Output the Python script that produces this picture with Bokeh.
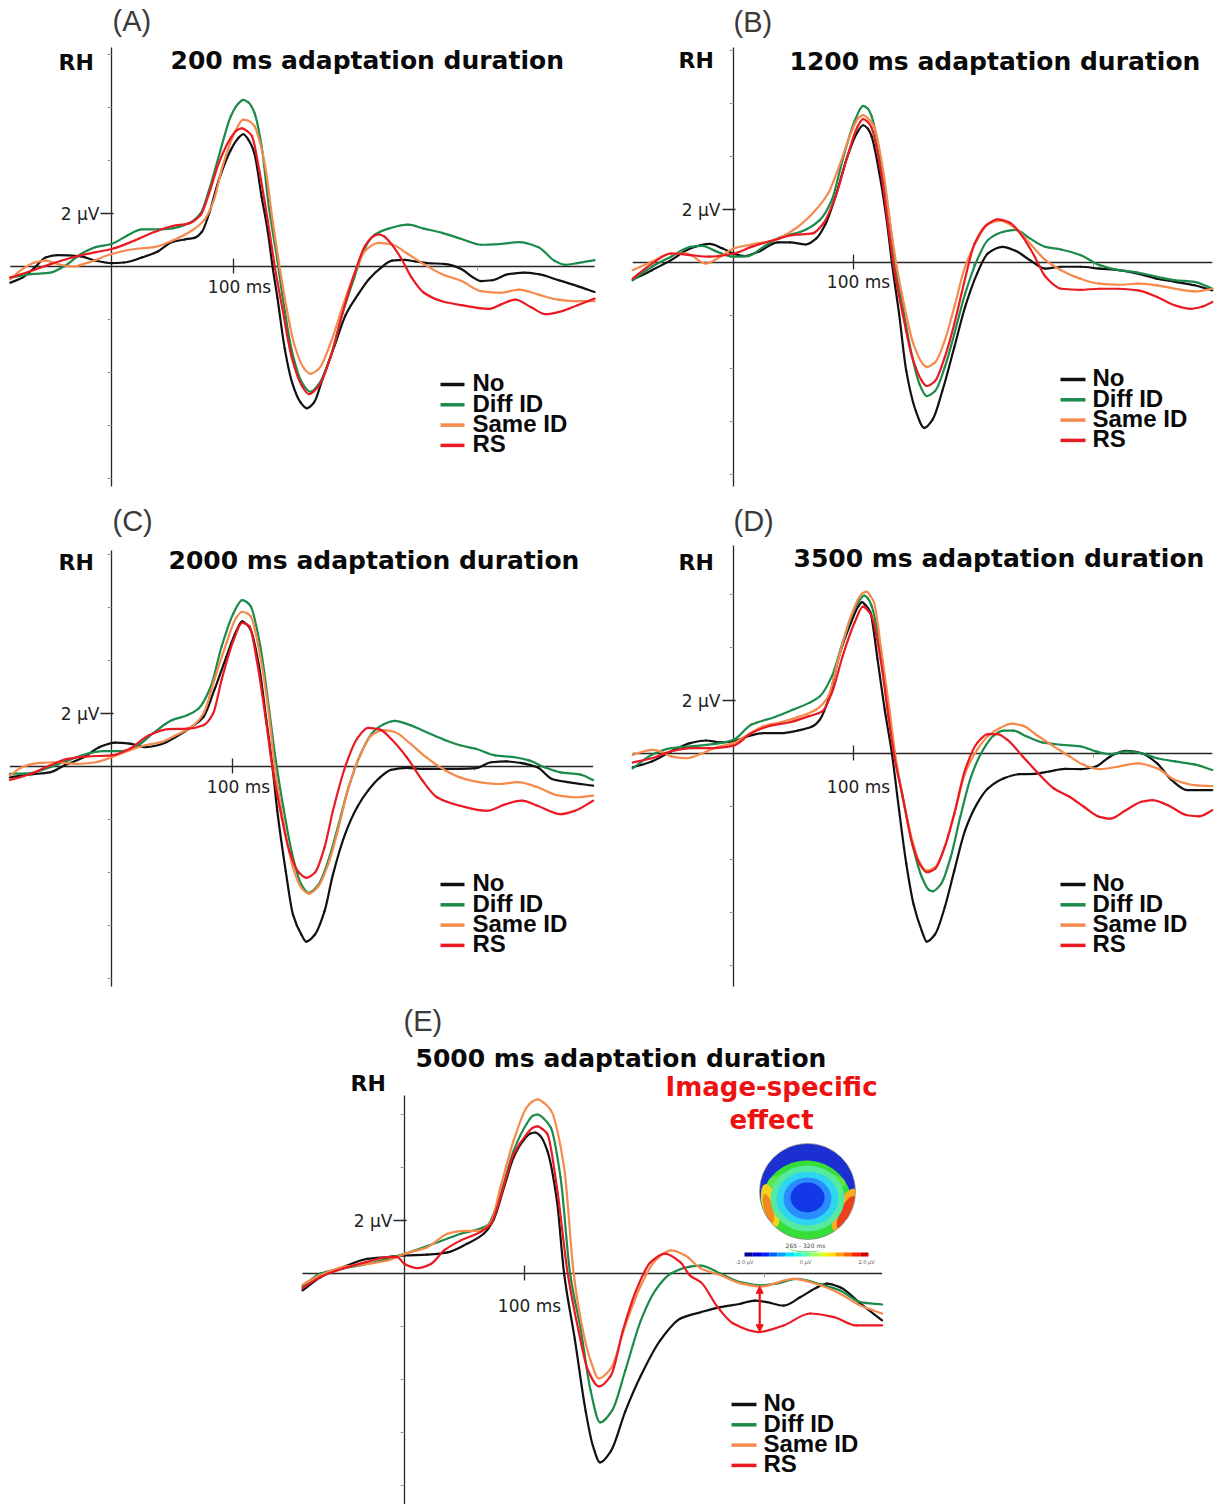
import numpy as np
from bokeh.plotting import figure
from bokeh.layouts import column, row
from bokeh.models import Range1d, Label, Arrow, NormalHead, Spacer
from bokeh.embed import file_html
from bokeh.resources import INLINE

# ---------------- data (time in ms, amplitude in µV) ----------------
SERIES = ["No", "Diff ID", "Same ID", "RS"]
COLORS = ["#111111", "#1b8a4b", "#f58a4c", "#ea1a22"]
TITLES = ["200 ms adaptation duration", "1200 ms adaptation duration",
          "2000 ms adaptation duration", "3500 ms adaptation duration",
          "5000 ms adaptation duration"]
TAGS = ["(A)", "(B)", "(C)", "(D)", "(E)"]
Y_TICK_LABEL = "2 µV"
X_TICK_LABEL = "100 ms"
Y_TICK = 2
X_TICK = 100
Y_MINOR = [-8, -6, -4, -2, 4, 6, 8]
X_MINOR = [200, 300]

A_NO = [(-83,-0.61),(-73,-0.42),(-63,-0.04),(-54,0.34),(-44,0.43),(-25,0.38),(-13,0.22),(0,0.13),(10,0.15),(25,0.34),(38,0.57),(50,0.93),(60,1.02),(68,1.08),(74,1.3),(80,2.0),(88,3.27),(98,4.42),(104,4.85),(108,4.99),(112,4.8),(117,4.29),(123,2.64),(128,1.36),(132,0.0),(136,-1.18),(142,-3.1),(148,-4.37),(155,-5.13),(160,-5.35),(166,-5.13),(173,-4.24),(183,-2.97),(192,-1.82),(202,-1.06),(211,-0.48),(221,-0.04),(230,0.22),(240,0.25),(249,0.19),(259,0.13),(274,0.09),(287,-0.1),(296,-0.4),(303,-0.55),(312,-0.52),(325,-0.29),(338,-0.23),(350,-0.29),(366,-0.51),(382,-0.74),(396,-0.96)]
A_DIFF = [(-83,-0.42),(-66,-0.29),(-50,-0.23),(-38,0.03),(-25,0.47),(-13,0.73),(0,0.85),(13,1.17),(25,1.4),(38,1.4),(50,1.44),(63,1.62),(73,2.0),(80,2.89),(88,4.17),(98,5.69),(104,6.15),(108,6.29),(112,6.2),(117,5.82),(123,4.55),(129,2.25),(136,0.22),(140,-1.06),(148,-3.22),(156,-4.37),(163,-4.73),(170,-4.43),(180,-3.35),(189,-1.82),(199,-0.42),(208,0.73),(216,1.21),(227,1.43),(243,1.58),(256,1.43),(271,1.27),(287,1.04),(303,0.82),(319,0.85),(334,0.92),(350,0.73),(363,0.22),(372,0.06),(382,0.13),(396,0.24)]
A_SAME = [(-83,-0.48),(-73,-0.1),(-63,0.15),(-54,0.22),(-44,0.09),(-32,0.0),(-19,0.15),(0,0.47),(19,0.66),(35,0.73),(50,0.98),(66,1.36),(76,1.75),(84,2.51),(91,3.78),(101,5.06),(108,5.54),(112,5.5),(117,5.31),(121,4.8),(126,3.78),(132,1.75),(137,0.22),(142,-1.18),(150,-2.97),(158,-3.86),(163,-4.05),(170,-3.86),(180,-2.84),(189,-1.57),(199,-0.29),(208,0.6),(219,0.89),(230,0.83),(243,0.47),(256,0.09),(271,-0.29),(287,-0.55),(303,-0.93),(319,-0.99),(334,-0.87),(350,-1.06),(366,-1.25),(382,-1.31),(396,-1.31)]
A_RS = [(-83,-0.42),(-66,-0.17),(-50,0.09),(-32,0.34),(-13,0.54),(0,0.66),(19,0.98),(35,1.3),(50,1.53),(63,1.62),(73,1.94),(80,2.76),(88,3.91),(98,4.87),(103,5.15),(107,5.21),(111,5.12),(115,4.93),(121,3.66),(128,1.75),(134,-0.04),(140,-1.57),(148,-3.48),(156,-4.5),(162,-4.82),(170,-4.5),(180,-3.35),(189,-1.82),(199,-0.29),(208,0.79),(215,1.15),(219,1.21),(223,1.15),(227,0.98),(237,0.34),(246,-0.42),(256,-0.99),(271,-1.31),(287,-1.46),(309,-1.6),(319,-1.44),(331,-1.25),(344,-1.54),(356,-1.8),(369,-1.69),(382,-1.46),(396,-1.21)]

B_NO = [(-84,-0.65),(-68,-0.29),(-52,0.09),(-36,0.53),(-20,0.7),(-9,0.53),(0,0.34),(9,0.24),(21,0.41),(37,0.76),(47,0.76),(60,0.68),(69,0.91),(77,1.48),(85,2.49),(95,4.01),(103,4.9),(108,5.18),(112,5.05),(115,4.77),(122,3.25),(128,1.48),(132,0.0),(138,-1.94),(144,-4.09),(152,-5.61),(159,-6.24),(166,-5.92),(174,-4.85),(184,-3.2),(193,-1.68),(203,-0.42),(212,0.34),(224,0.59),(235,0.44),(247,0.09),(260,-0.23),(273,-0.16),(289,-0.16),(305,-0.23),(321,-0.29),(337,-0.42),(353,-0.61),(368,-0.73),(384,-0.86),(399,-1.05)]
B_DIFF = [(-84,-0.67),(-68,-0.16),(-52,0.22),(-36,0.59),(-26,0.63),(-14,0.41),(0,0.22),(12,0.24),(25,0.59),(40,0.97),(56,1.16),(72,1.61),(82,2.37),(91,3.89),(101,5.34),(108,5.91),(112,5.8),(115,5.53),(123,3.76),(130,1.61),(135,-0.16),(141,-1.68),(149,-3.58),(155,-4.59),(161,-5.04),(168,-4.85),(176,-3.96),(184,-2.7),(193,-1.18),(203,0.09),(212,0.85),(225,1.16),(235,1.23),(247,0.91),(260,0.59),(273,0.49),(289,0.28),(305,-0.1),(321,-0.29),(337,-0.38),(353,-0.54),(368,-0.67),(384,-0.73),(399,-0.99)]
B_SAME = [(-84,-0.29),(-68,0.03),(-52,0.34),(-39,0.34),(-23,-0.04),(-11,0.22),(0,0.53),(15,0.68),(34,0.85),(50,1.23),(66,1.86),(79,2.62),(88,3.63),(98,4.9),(104,5.45),(108,5.56),(112,5.45),(117,5.15),(125,3.38),(131,1.35),(136,-0.16),(142,-1.56),(150,-3.08),(158,-3.84),(161,-3.94),(168,-3.77),(176,-2.95),(184,-1.68),(193,-0.16),(203,0.85),(212,1.44),(222,1.58),(235,1.29),(247,0.72),(260,0.09),(273,-0.29),(289,-0.61),(305,-0.8),(321,-0.84),(337,-0.8),(353,-0.86),(368,-0.99),(384,-1.09),(399,-0.99)]
B_RS = [(-84,-0.61),(-68,-0.04),(-52,0.34),(-36,0.28),(-20,0.22),(0,0.34),(15,0.59),(34,0.85),(50,1.04),(66,1.1),(75,1.48),(85,2.49),(95,4.01),(103,5.09),(108,5.41),(112,5.3),(115,5.09),(123,3.38),(129,1.35),(134,-0.29),(141,-1.94),(149,-3.58),(157,-4.47),(161,-4.66),(168,-4.47),(176,-3.58),(184,-2.32),(192,-0.8),(201,0.72),(211,1.42),(220,1.63),(230,1.51),(241,0.97),(251,0.22),(260,-0.54),(273,-0.99),(289,-1.03),(305,-0.99),(321,-0.99),(337,-1.05),(353,-1.3),(368,-1.62),(381,-1.75),(391,-1.66),(399,-1.49)]

C_NO = [(-84,-0.41),(-67,-0.3),(-51,-0.22),(-39,0.04),(-23,0.35),(-10,0.73),(3,0.9),(15,0.86),(28,0.73),(41,0.84),(53,1.11),(66,1.49),(76,1.87),(85,2.89),(95,4.15),(103,5.1),(108,5.48),(112,5.35),(115,5.16),(122,3.77),(128,1.75),(133,0.0),(137,-1.67),(144,-3.95),(150,-5.59),(157,-6.35),(161,-6.61),(168,-6.35),(176,-5.47),(183,-4.08),(193,-2.56),(203,-1.54),(212,-0.91),(222,-0.41),(231,-0.13),(244,-0.05),(257,-0.09),(272,-0.09),(288,-0.09),(301,-0.06),(314,0.16),(326,0.19),(339,0.13),(352,-0.03),(364,-0.47),(377,-0.59),(398,-0.72)]
C_DIFF = [(-84,-0.28),(-67,-0.25),(-51,-0.03),(-36,0.23),(-20,0.48),(-7,0.58),(9,0.58),(22,0.8),(34,1.24),(50,1.75),(63,1.94),(72,2.19),(82,3.01),(91,4.53),(101,5.8),(108,6.28),(112,6.2),(115,6.05),(123,4.53),(130,2.25),(135,0.48),(142,-1.54),(150,-3.44),(157,-4.46),(163,-4.77),(171,-4.46),(179,-3.57),(187,-2.3),(196,-0.78),(206,0.48),(215,1.24),(225,1.59),(234,1.72),(247,1.56),(260,1.3),(276,0.99),(288,0.8),(301,0.67),(317,0.42),(333,0.35),(345,0.23),(358,-0.03),(371,-0.22),(387,-0.3),(398,-0.51)]
C_SAME = [(-84,-0.34),(-74,-0.03),(-61,0.13),(-45,0.16),(-29,0.1),(-13,0.16),(0,0.35),(15,0.61),(28,0.8),(41,0.92),(53,1.18),(66,1.49),(76,2.0),(85,3.27),(95,4.66),(103,5.61),(108,5.84),(112,5.78),(115,5.67),(123,4.15),(130,2.0),(135,-0.03),(142,-2.05),(150,-3.82),(157,-4.58),(163,-4.8),(171,-4.52),(179,-3.7),(187,-2.43),(196,-0.78),(206,0.48),(215,1.18),(225,1.37),(234,1.3),(247,0.86),(260,0.35),(276,-0.15),(288,-0.41),(304,-0.59),(320,-0.66),(336,-0.59),(352,-0.78),(368,-1.08),(383,-1.16),(398,-1.1)]
C_RS = [(-84,-0.51),(-67,-0.28),(-51,0.04),(-36,0.29),(-20,0.38),(0,0.42),(15,0.67),(31,1.18),(47,1.41),(63,1.43),(76,1.56),(84,2.0),(91,3.27),(101,4.78),(108,5.42),(111,5.38),(114,5.29),(120,4.03),(128,1.62),(133,-0.03),(139,-1.54),(147,-3.19),(155,-4.01),(161,-4.2),(168,-4.01),(176,-3.06),(183,-1.67),(193,-0.03),(203,1.05),(212,1.46),(222,1.39),(231,1.05),(244,0.35),(257,-0.53),(269,-1.16),(288,-1.48),(310,-1.67),(326,-1.42),(339,-1.29),(352,-1.48),(371,-1.8),(383,-1.67),(398,-1.29)]

D_NO = [(-84,-0.52),(-68,-0.3),(-52,0.08),(-36,0.39),(-23,0.49),(-11,0.42),(0,0.46),(12,0.65),(25,0.77),(40,0.77),(53,0.86),(66,1.03),(72,1.28),(80,2.16),(88,3.68),(98,4.95),(104,5.55),(107,5.71),(110,5.6),(114,5.33),(120,3.56),(126,1.66),(132,0.0),(138,-2.14),(144,-4.16),(150,-5.68),(157,-6.7),(161,-7.1),(168,-6.82),(176,-5.81),(184,-4.42),(193,-2.9),(203,-1.89),(212,-1.32),(225,-0.94),(238,-0.78),(251,-0.77),(263,-0.68),(276,-0.58),(289,-0.59),(302,-0.49),(314,-0.11),(327,0.1),(340,0.01),(353,-0.37),(365,-1.0),(378,-1.38),(399,-1.38)]
D_DIFF = [(-84,-0.56),(-68,-0.05),(-52,0.2),(-30,0.29),(-14,0.37),(0,0.52),(15,1.09),(34,1.37),(50,1.66),(63,1.91),(72,2.16),(82,2.92),(91,4.19),(101,5.46),(109,5.96),(112,5.85),(115,5.58),(123,3.81),(129,1.66),(134,0.0),(141,-1.63),(149,-3.41),(157,-4.67),(163,-5.15),(166,-5.2),(173,-4.92),(181,-3.91),(189,-2.39),(198,-0.87),(208,0.14),(217,0.68),(225,0.86),(233,0.86),(244,0.65),(257,0.42),(273,0.33),(289,0.27),(302,0.08),(314,-0.03),(327,0.08),(340,0.01),(353,-0.18),(368,-0.3),(384,-0.41),(399,-0.62)]
D_SAME = [(-84,-0.05),(-68,0.14),(-61,0.08),(-52,-0.11),(-39,-0.18),(-26,0.01),(-14,0.24),(0,0.39),(12,0.71),(25,1.03),(40,1.19),(56,1.41),(69,1.66),(79,2.16),(88,3.68),(98,5.2),(107,6.03),(111,6.11),(114,5.95),(117,5.71),(123,3.94),(130,1.66),(135,-0.11),(141,-1.63),(149,-3.28),(155,-4.1),(161,-4.42),(168,-4.29),(176,-3.53),(184,-2.27),(193,-0.75),(203,0.14),(212,0.65),(222,0.96),(232,1.13),(241,1.05),(254,0.65),(267,0.27),(280,-0.11),(292,-0.43),(305,-0.59),(321,-0.49),(337,-0.37),(353,-0.56),(368,-1.0),(384,-1.19),(399,-1.23)]
D_RS = [(-84,-0.34),(-68,-0.18),(-52,0.08),(-36,0.2),(-20,0.2),(0,0.3),(15,0.77),(31,1.05),(47,1.18),(63,1.41),(74,1.59),(82,2.29),(91,3.68),(101,4.95),(108,5.54),(112,5.4),(115,5.2),(123,3.43),(129,1.41),(134,-0.11),(141,-1.63),(149,-3.41),(155,-4.16),(161,-4.48),(168,-4.35),(176,-3.53),(184,-2.27),(193,-0.62),(203,0.39),(212,0.73),(220,0.73),(228,0.52),(241,-0.11),(254,-0.75),(267,-1.32),(280,-1.63),(292,-2.01),(305,-2.39),(314,-2.46),(327,-2.14),(340,-1.82),(349,-1.76),(362,-1.95),(378,-2.33),(388,-2.37),(399,-2.14)]

E_NO = [(-85,-0.64),(-70,-0.14),(-51,0.24),(-31,0.55),(-14,0.62),(0,0.68),(19,0.71),(36,0.8),(52,1.12),(66,1.5),(74,2.0),(83,3.26),(91,4.39),(99,5.02),(105,5.28),(109,5.32),(113,5.2),(119,4.64),(127,2.75),(133,0.0),(142,-2.5),(151,-5.2),(157,-6.5),(163,-7.13),(172,-6.7),(184,-5.2),(197,-3.85),(213,-2.53),(230,-1.7),(247,-1.46),(263,-1.27),(280,-1.14),(292,-1.02),(302,-1.08),(316,-1.21),(330,-0.89),(344,-0.52),(352,-0.38),(363,-0.52),(380,-1.14),(398,-1.77)]
E_DIFF = [(-85,-0.49),(-70,0.0),(-51,0.19),(-31,0.36),(0,0.74),(24,1.12),(47,1.5),(69,1.81),(80,3.0),(91,4.64),(102,5.66),(107,5.95),(111,6.0),(116,5.85),(122,5.5),(130,3.64),(138,0.0),(147,-2.15),(155,-4.4),(163,-5.62),(173,-5.17),(184,-3.66),(197,-1.77),(209,-0.64),(222,0.0),(238,0.26),(247,0.3),(263,0.0),(280,-0.33),(297,-0.45),(311,-0.37),(327,-0.2),(347,-0.41),(363,-0.64),(380,-1.08),(398,-1.17)]
E_SAME = [(-85,-0.42),(-70,-0.06),(-51,0.25),(-31,0.36),(-14,0.49),(0,0.74),(19,0.99),(36,1.5),(47,1.6),(63,1.62),(72,1.94),(80,3.26),(91,5.02),(102,6.28),(107,6.5),(111,6.57),(116,6.45),(122,6.16),(133,4.0),(141,0.0),(147,-1.77),(155,-3.28),(162,-3.96),(172,-3.58),(184,-1.96),(197,-0.45),(209,0.49),(222,0.87),(234,0.68),(247,0.19),(263,-0.06),(280,-0.37),(297,-0.49),(324,-0.2),(347,-0.45),(363,-0.76),(380,-1.21),(398,-1.51)]
E_RS = [(-85,-0.55),(-70,-0.13),(-51,0.19),(-31,0.44),(-14,0.62),(-6,0.62),(0,0.36),(11,0.2),(22,0.36),(33,0.87),(47,1.25),(63,1.56),(72,1.87),(80,2.88),(91,4.51),(102,5.27),(107,5.5),(111,5.55),(115,5.45),(119,5.27),(127,3.26),(136,0.0),(145,-2.15),(153,-3.66),(162,-4.26),(172,-3.85),(182,-2.15),(193,-0.64),(205,0.42),(217,0.75),(230,0.42),(238,-0.08),(247,-0.33),(261,-1.27),(274,-1.89),(295,-2.21),(316,-1.96),(338,-1.51),(358,-1.65),(377,-1.96),(398,-1.96)]

PANEL_DATA = [
    [A_NO, A_DIFF, A_SAME, A_RS],
    [B_NO, B_DIFF, B_SAME, B_RS],
    [C_NO, C_DIFF, C_SAME, C_RS],
    [D_NO, D_DIFF, D_SAME, D_RS],
    [E_NO, E_DIFF, E_SAME, E_RS],
]

EFFECT_TEXT = ["Image-specific", "effect"]
ARROW_T = 296
TOPO_TITLE = "265 - 320 ms"
TOPO_TICKS = ["-2.0 µV", "0 µV", "2.0 µV"]
JET = ["#00008f", "#0000d0", "#0020ff", "#0060ff", "#00a0ff", "#00e0ff", "#20ffdf",
       "#60ff9f", "#a0ff60", "#dfff20", "#ffe000", "#ffa000", "#ff6000", "#ff2000", "#d00000"]

# ---------------- layout (page pixels) ----------------
PXUV = 26.5
LAYOUT = [
    dict(ox=0, oy=0, w=612, h=497, x0=111, pxms=1.22, y0=266, ytop=47, ybot=486,
         tag=(112, 32), title=(170, 70), rh=(58, 71), uv=(99, 220), ms=(239, 293),
         leg=(440, 464, 472, 392)),
    dict(ox=612, oy=0, w=613, h=497, x0=733, pxms=1.20, y0=262, ytop=47, ybot=486,
         tag=(733, 33), title=(789, 71), rh=(678, 69), uv=(720, 216), ms=(858, 288),
         leg=(1060, 1085, 1092, 387)),
    dict(ox=0, oy=497, w=612, h=500, x0=111, pxms=1.21, y0=766, ytop=550, ybot=986,
         tag=(112, 532), title=(168, 570), rh=(58, 571), uv=(99, 720), ms=(238, 793),
         leg=(440, 464, 472, 892)),
    dict(ox=612, oy=497, w=613, h=500, x0=733, pxms=1.20, y0=753, ytop=545, ybot=986,
         tag=(733, 532), title=(793, 568), rh=(678, 571), uv=(720, 707), ms=(858, 793),
         leg=(1060, 1085, 1092, 892)),
    dict(ox=300, oy=997, w=590, h=507, x0=404, pxms=1.20, y0=1273, ytop=1095, ybot=1504,
         tag=(403, 1032), title=(415, 1068), rh=(350, 1092), uv=(392, 1227), ms=(529, 1312),
         leg=(731, 756, 763, 1412)),
]
AXIS_COLOR = "#262626"
LEG_STEP = 20.3


def pchip_bezier(s):
    """Smooth (shape-preserving) cubic segments through the read points."""
    t = np.array([a for a, _ in s], float)
    v = np.array([b for _, b in s], float)
    h = np.diff(t)
    d = np.diff(v) / h
    m = np.zeros_like(v)
    m[0], m[-1] = d[0], d[-1]
    for k in range(1, len(v) - 1):
        if d[k - 1] * d[k] > 0:
            w1 = 2 * h[k] + h[k - 1]
            w2 = h[k] + 2 * h[k - 1]
            m[k] = (w1 + w2) / (w1 / d[k - 1] + w2 / d[k])
    return dict(x0=t[:-1], y0=v[:-1], x1=t[1:], y1=v[1:],
                cx0=t[:-1] + h / 3, cy0=v[:-1] + m[:-1] * h / 3,
                cx1=t[1:] - h / 3, cy1=v[1:] - m[1:] * h / 3)


def make_panel(i):
    L = LAYOUT[i]
    data = PANEL_DATA[i]
    X = lambda px: (px - L["x0"]) / L["pxms"]
    Y = lambda py: (L["y0"] - py) / PXUV
    p = figure(width=L["w"], height=L["h"],
               x_range=Range1d(X(L["ox"]), X(L["ox"] + L["w"])),
               y_range=Range1d(Y(L["oy"] + L["h"]), Y(L["oy"])),
               output_backend="svg", toolbar_location=None,
               x_axis_type=None, y_axis_type=None, min_border=0, title=None,
               outline_line_color=None, background_fill_color="white",
               border_fill_color="white")

    ts = [t for s in data for t, _ in s]
    tmin, tmax = min(ts), max(ts)
    ybot, ytop = Y(L["ybot"]), Y(L["ytop"])
    p.segment(x0=[tmin, 0], y0=[0, ybot], x1=[tmax, 0], y1=[0, ytop],
              line_color=AXIS_COLOR, line_width=1.3)
    p.segment(x0=[X(L["x0"] - 11)], y0=[Y_TICK], x1=[X(L["x0"] + 2)], y1=[Y_TICK],
              line_color=AXIS_COLOR, line_width=1.3)
    p.segment(x0=[X_TICK], y0=[Y(L["y0"] - 8)], x1=[X_TICK], y1=[Y(L["y0"] + 7)],
              line_color=AXIS_COLOR, line_width=1.3)
    ym = [v for v in Y_MINOR if ybot < v < ytop]
    p.segment(x0=[X(L["x0"] - 4)] * len(ym), y0=ym, x1=[0] * len(ym), y1=ym,
              line_color="#9a9a9a", line_width=1)
    p.segment(x0=X_MINOR, y0=[0] * len(X_MINOR), x1=X_MINOR,
              y1=[Y(L["y0"] + 4)] * len(X_MINOR), line_color="#9a9a9a", line_width=1)

    for name, col, s in zip(SERIES, COLORS, data):
        p.bezier(**pchip_bezier(s), line_color=col, line_width=2.2, line_cap="round")

    def lab(px, py, text, font, size, style="normal", color="#111111", align="left"):
        fs = float(size.replace("px", ""))
        p.add_layout(Label(x=X(px), y=Y(py - 0.4 * fs), text=text, text_font=font,
                           text_font_size=size, text_font_style=style,
                           text_color=color, text_align=align,
                           text_baseline="alphabetic"))

    lab(*L["tag"], TAGS[i], "Liberation Sans", "29px", color="#3a3a3a")
    lab(*L["title"], TITLES[i], "DejaVu Sans", "25px", "bold", "#0a0a0a")
    lab(*L["rh"], "RH", "DejaVu Sans", "22px", "bold", "#0a0a0a")
    lab(*L["uv"], Y_TICK_LABEL, "DejaVu Sans", "17px", color="#222222", align="right")
    lab(*L["ms"], X_TICK_LABEL, "DejaVu Sans", "17px", color="#222222", align="center")

    lx0, lx1, tx, b0 = L["leg"]
    for k, (name, col) in enumerate(zip(SERIES, COLORS)):
        b = b0 + LEG_STEP * k
        p.segment(x0=[X(lx0)], y0=[Y(b - 8)], x1=[X(lx1)], y1=[Y(b - 8)],
                  line_color=col, line_width=3.5)
        lab(tx, b, name, "Liberation Sans", "24px", "bold", "#0a0a0a")
    return p, X, Y, lab


panels = [make_panel(i) for i in range(5)]
pE, XE, YE, labE = panels[4]

# --- annotation of panel E ---
labE(771, 1097, EFFECT_TEXT[0], "DejaVu Sans", "26px", "bold", "#ee1111", "center")
labE(771, 1130, EFFECT_TEXT[1], "DejaVu Sans", "26px", "bold", "#ee1111", "center")

cx, cy = XE(807), YE(1191)
pE.scatter([cx], [cy], size=96, marker="circle", fill_color="#1c2fd0", line_color=None)
pE.scatter([XE(806)], [YE(1206)], size=92, marker="circle", fill_color="#36df38", line_color=None)
pE.ellipse([XE(806)], [YE(1182)], width=78, height=22, width_units="screen",
           height_units="screen", fill_color="#6ee84a", line_color=None, fill_alpha=0.7)
pE.ellipse([XE(770)], [YE(1205)], width=16, height=44, angle=0.25, width_units="screen",
           height_units="screen", fill_color="#f2d21a", line_color=None)
pE.ellipse([XE(768)], [YE(1208)], width=9, height=30, angle=0.25, width_units="screen",
           height_units="screen", fill_color="#f08a20", line_color=None)
pE.ellipse([XE(845)], [YE(1210)], width=20, height=48, angle=-0.45, width_units="screen",
           height_units="screen", fill_color="#f5b020", line_color=None)
pE.ellipse([XE(846)], [YE(1212)], width=13, height=36, angle=-0.45, width_units="screen",
           height_units="screen", fill_color="#f0401a", line_color=None)
pE.ellipse([XE(807)], [YE(1198)], width=74, height=66, width_units="screen",
           height_units="screen", fill_color="#56eaa0", line_color=None)
pE.ellipse([XE(807)], [YE(1198)], width=62, height=54, width_units="screen",
           height_units="screen", fill_color="#2ed6f0", line_color=None)
pE.ellipse([XE(807)], [YE(1198)], width=48, height=42, width_units="screen",
           height_units="screen", fill_color="#2a8cff", line_color=None)
pE.ellipse([XE(807)], [YE(1197)], width=34, height=30, width_units="screen",
           height_units="screen", fill_color="#1238e8", line_color=None)
pE.scatter([cx], [cy], size=108, marker="circle", fill_color=None, line_color="white",
           line_width=12)
pE.scatter([cx], [cy], size=96, marker="circle", fill_color=None, line_color="#8a8a8a",
           line_width=0.8)
n = len(JET)
edges = np.linspace(744, 868, n + 1)
pE.quad(left=[XE(e) for e in edges[:-1]], right=[XE(e) for e in edges[1:]],
        top=[YE(1252)] * n, bottom=[YE(1256)] * n, fill_color=JET, line_color=None)
labE(805, 1247, TOPO_TITLE, "DejaVu Sans", "6px", color="#444444", align="center")
for xx, tt in zip([744, 805, 866], TOPO_TICKS):
    labE(xx, 1263, tt, "DejaVu Sans", "5px", color="#555555", align="center")

ts_same = [t for t, _ in E_SAME]
vs_same = [v for _, v in E_SAME]
ts_rs = [t for t, _ in E_RS]
vs_rs = [v for _, v in E_RS]
v_top = float(np.interp(ARROW_T, ts_same, vs_same))
v_bot = float(np.interp(ARROW_T, ts_rs, vs_rs))
pE.add_layout(Arrow(x_start=ARROW_T, y_start=v_bot, x_end=ARROW_T, y_end=v_top,
                    start=NormalHead(size=7, fill_color="#ee1111", line_color="#ee1111"),
                    end=NormalHead(size=7, fill_color="#ee1111", line_color="#ee1111"),
                    line_color="#ee1111", line_width=2.2))

layout = column(
    row(panels[0][0], panels[1][0]),
    row(panels[2][0], panels[3][0]),
    row(Spacer(width=300, height=507), pE),
)

open("out.html", "w").write(file_html(layout, INLINE))
